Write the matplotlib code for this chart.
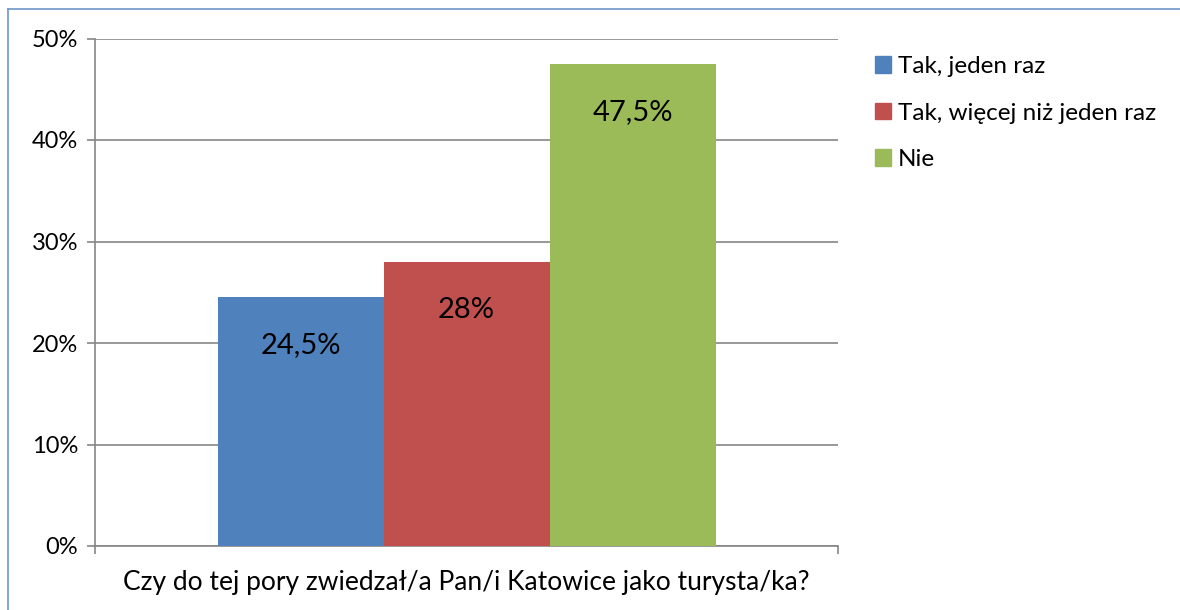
import matplotlib.pyplot as plt
from matplotlib.lines import Line2D
from matplotlib.patches import Patch

# data
series = ["Tak, jeden raz", "Tak, więcej niż jeden raz", "Nie"]
values = [24.5, 28, 47.5]
value_labels = ["24,5%", "28%", "47,5%"]
colors = ["#4F81BD", "#C0504D", "#9BBB59"]
yticks = [0, 10, 20, 30, 40, 50]
xlabel = "Czy do tej pory zwiedzał/a Pan/i Katowice jako turysta/ka?"

plt.rcParams['font.family'] = ['Lato', 'DejaVu Sans']

W, H = 1180, 610
fig = plt.figure(figsize=(W / 100, H / 100), dpi=100)
ax = fig.add_axes([95 / W, 1 - 546 / H, (838 - 95) / W, (546 - 38.5) / H])

# chart border (blue line at left and top)
fig.add_artist(Line2D([8 / W, 8 / W], [0, 1 - 9 / H], transform=fig.transFigure, color="#6F96C8", lw=1.2))
fig.add_artist(Line2D([8 / W, 1], [1 - 9 / H, 1 - 9 / H], transform=fig.transFigure, color="#6F96C8", lw=1.2))

bw = 166 / 743
for i, (v, c) in enumerate(zip(values, colors)):
    x = 0.5 + (i - 1) * bw
    ax.bar(x, v, width=bw, color=c, zorder=3, label=series[i])
    ax.annotate(value_labels[i], (x, v), xytext=(0, -48), textcoords="offset pixels",
                ha="center", va="center", fontsize=21, color="black", zorder=4)

ax.set_xlim(0, 1)
ax.set_ylim(0, 50)
ax.set_yticks(yticks)
ax.set_yticklabels([f"{t}%" for t in yticks], fontsize=17)
ax.set_xticks([0, 1])
ax.set_xticklabels(["", ""])
ax.tick_params(axis="y", length=6, width=1.2, color="#868686", pad=6)
ax.tick_params(axis="x", length=6, width=1.2, color="#868686")
ax.grid(axis="y", color="#868686", lw=1.2, zorder=0)
for s in ["top", "right"]:
    ax.spines[s].set_visible(False)
for s in ["left", "bottom"]:
    ax.spines[s].set_color("#868686")
    ax.spines[s].set_linewidth(1.2)
ax.set_xlabel(xlabel, fontsize=19, labelpad=8)

handles = [Patch(color=c) for c in colors]
fig.legend(handles, series, loc="upper left", bbox_to_anchor=(875 / W, 1 - 56 / H),
           frameon=False, fontsize=17.5, handlelength=0.65, handleheight=0.65,
           handletextpad=0.3, labelspacing=1.05, borderaxespad=0, borderpad=0)

fig.savefig("out.png", dpi=100)
